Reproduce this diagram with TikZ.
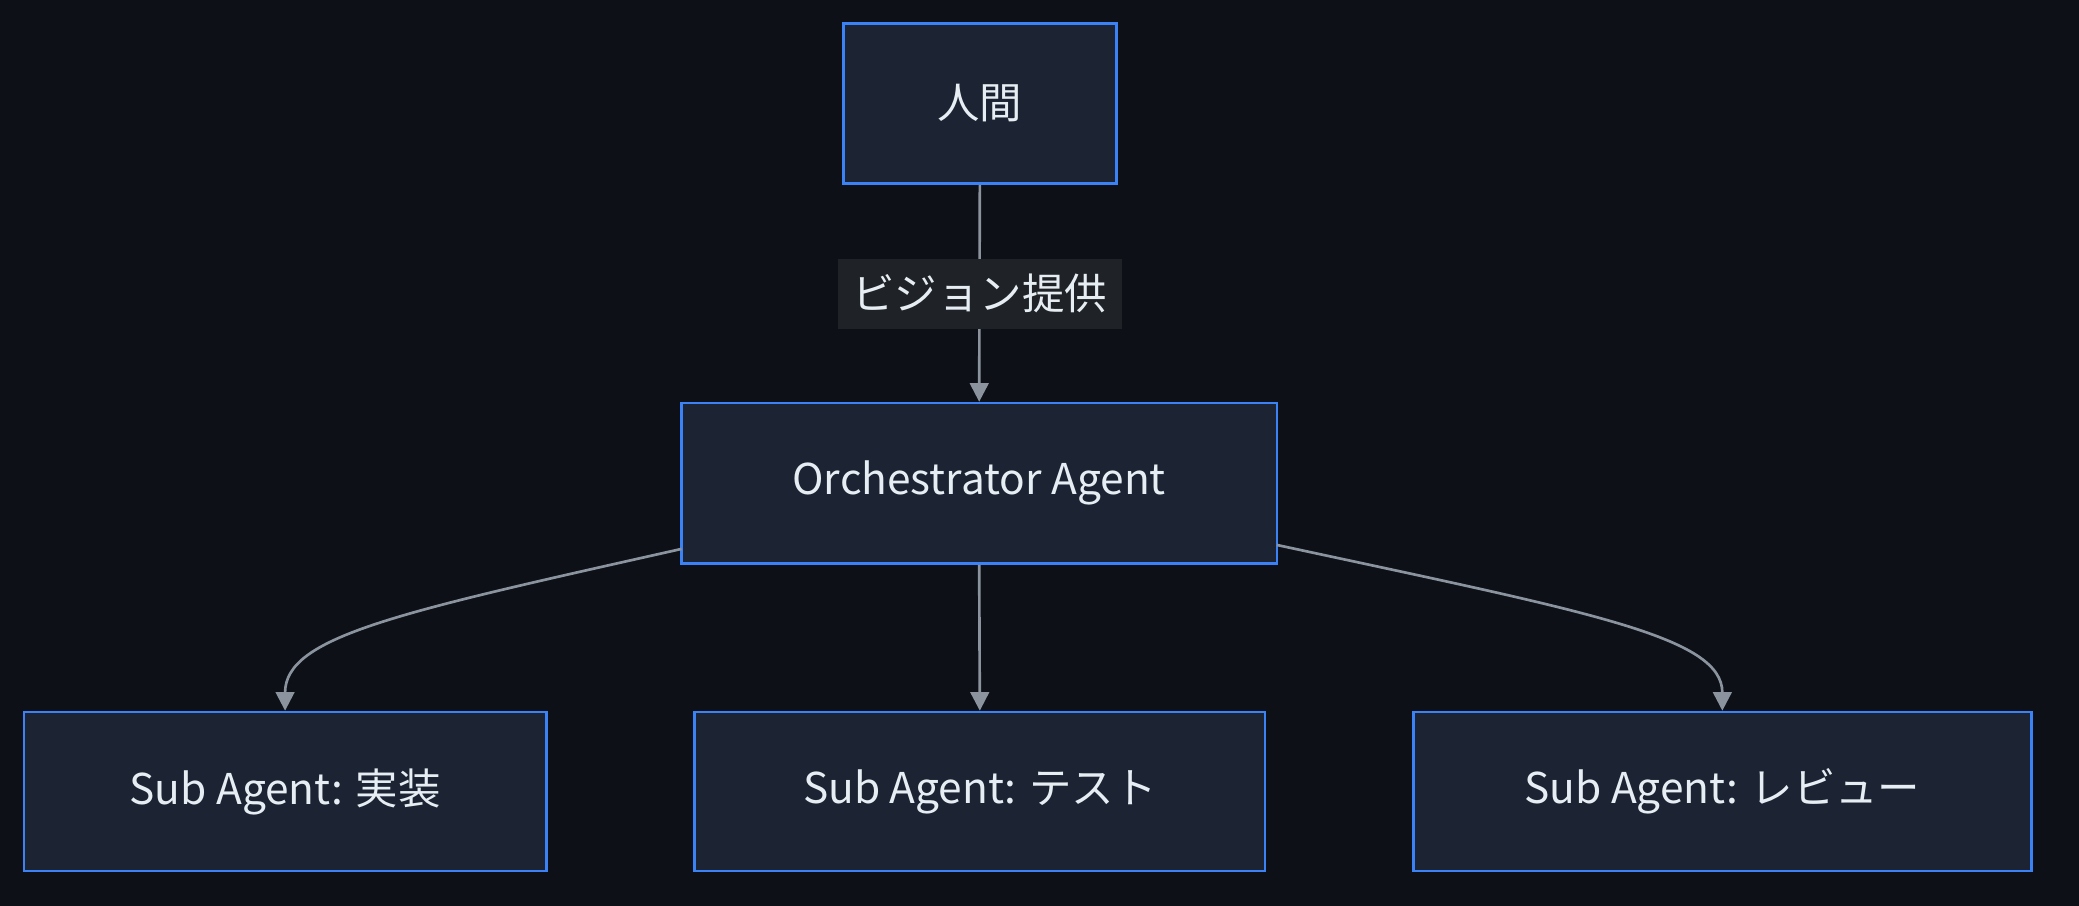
\documentclass[tikz,border=0pt]{standalone}
\usepackage{fontspec}
\setmainfont{Noto Sans CJK JP}
\usetikzlibrary{arrows.meta}
\definecolor{bg}{HTML}{0D1117}
\definecolor{nodefill}{HTML}{1C2333}
\definecolor{nodeline}{HTML}{3B82F6}
\definecolor{edge}{HTML}{8B949E}
\definecolor{lblbg}{HTML}{1F2328}
\definecolor{txt}{HTML}{E6EDF3}
\begin{document}
\begin{tikzpicture}[x=1pt,y=-1pt,
  box/.style={draw=nodeline,line width=2pt,fill=nodefill,text=txt,font=\fontsize{32}{38}\selectfont,inner sep=0pt},
  arr/.style={draw=edge,line width=2pt,-{Triangle[length=14pt,width=14pt]}},
  lbl/.style={fill=lblbg,text=txt,font=\fontsize{32}{38}\selectfont,inner sep=0pt,minimum width=214pt,minimum height=53pt}]
\fill[bg] (0,0) rectangle (1568,683);
\useasboundingbox (0,0) rectangle (1568,683);
\node[box,minimum width=206pt,minimum height=121pt] (h) at (739,78) {人間};
\node[box,minimum width=449pt,minimum height=121pt] (o) at (738.5,364.5) {Orchestrator Agent};
\node[box,minimum width=394pt,minimum height=120pt] (s1) at (215,597) {Sub Agent: 実装};
\node[box,minimum width=430pt,minimum height=120pt] (s2) at (739,597) {Sub Agent: テスト};
\node[box,minimum width=466pt,minimum height=120pt] (s3) at (1299,597) {Sub Agent: レビュー};
\draw[arr] (h.south) -- (o.north);
\node[lbl] (l) at (739,221.5) {ビジョン提供};
\draw[arr] (o.south) -- (s2.north);
\coordinate (ol) at (514,414);
\coordinate (or) at (963,411);
\draw[arr] (ol) .. controls (300,462) and (215,480) .. (s1.north);
\draw[arr] (or) .. controls (1200,462) and (1299,480) .. (s3.north);
\end{tikzpicture}
\end{document}
